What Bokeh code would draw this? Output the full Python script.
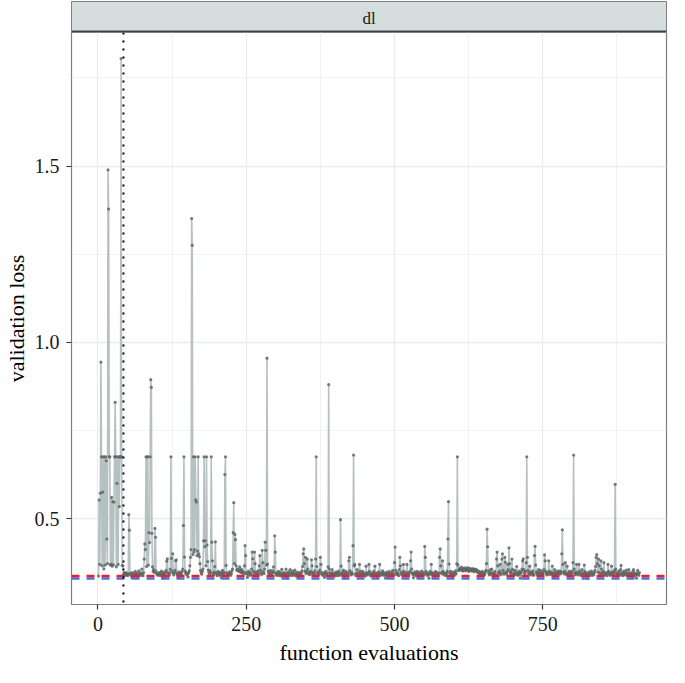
from bokeh.plotting import figure
from bokeh.models import Range1d, FixedTicker, PrintfTickFormatter, Span
from bokeh.layouts import column
from bokeh.embed import file_html
from bokeh.resources import INLINE
from bokeh.core.properties import value

# validation loss per function evaluation, in thousandths
loss_001_050 = [337, 553, 370, 572, 944, 675, 366, 575, 675, 357,
                675, 368, 675, 664, 442, 372, 1489, 1378, 675, 675,
                368, 371, 560, 365, 548, 369, 547, 675, 830, 675,
                363, 600, 675, 370, 675, 534, 675, 675, 1805, 675,
                367, 366, 340, 344, 347, 339, 343, 346, 341, 338]
loss_051_100 = [342, 511, 467, 345, 340, 343, 333, 347, 341, 336,
                344, 339, 350, 342, 337, 346, 341, 335, 352, 343,
                340, 345, 339, 357, 342, 338, 347, 385, 428, 412,
                675, 364, 675, 675, 368, 460, 432, 675, 894, 872,
                458, 363, 350, 355, 347, 472, 447, 351, 344, 341]
loss_101_150 = [339, 344, 347, 342, 338, 345, 351, 340, 331, 343,
                348, 341, 337, 346, 353, 379, 386, 347, 342, 339,
                345, 356, 675, 387, 350, 400, 344, 340, 347, 353,
                380, 383, 345, 341, 333, 344, 349, 342, 338, 346,
                341, 350, 357, 480, 675, 391, 351, 344, 347, 340]
loss_151_200 = [343, 334, 346, 352, 366, 390, 412, 1351, 1275, 398,
                675, 405, 412, 675, 553, 547, 395, 408, 675, 400,
                392, 372, 353, 346, 342, 350, 357, 437, 675, 420,
                437, 366, 675, 425, 378, 354, 347, 341, 352, 346,
                675, 433, 380, 345, 341, 348, 364, 434, 347, 342]
loss_201_250 = [338, 345, 350, 343, 339, 346, 341, 332, 348, 353,
                344, 340, 347, 625, 675, 367, 346, 342, 338, 345,
                341, 349, 343, 339, 344, 352, 357, 460, 545, 372,
                455, 440, 366, 354, 357, 352, 355, 350, 363, 353,
                347, 356, 351, 345, 349, 344, 366, 423, 395, 347]
loss_251_300 = [342, 333, 345, 351, 343, 339, 347, 341, 357, 405,
                386, 350, 344, 405, 372, 348, 342, 339, 346, 352,
                343, 366, 395, 354, 347, 341, 410, 375, 349, 344,
                357, 433, 410, 368, 955, 371, 351, 345, 340, 347,
                353, 342, 338, 346, 351, 363, 347, 451, 405, 344]
loss_301_350 = [339, 345, 342, 350, 338, 344, 348, 341, 337, 356,
                343, 339, 347, 342, 338, 345, 357, 341, 331, 344,
                349, 340, 346, 355, 342, 338, 345, 351, 343, 339,
                346, 354, 341, 337, 344, 348, 340, 332, 343, 347,
                341, 338, 345, 352, 364, 400, 414, 372, 350, 390]
loss_351_400 = [344, 351, 385, 357, 345, 341, 348, 342, 350, 383,
                366, 346, 340, 347, 343, 352, 385, 675, 364, 345,
                341, 348, 342, 354, 390, 370, 347, 343, 339, 346,
                341, 333, 345, 350, 342, 338, 344, 363, 880, 357,
                347, 342, 338, 345, 355, 343, 339, 346, 341, 337]
loss_401_450 = [344, 349, 342, 338, 346, 351, 343, 339, 497, 365,
                345, 341, 348, 354, 342, 331, 345, 350, 341, 337,
                341, 347, 380, 390, 352, 344, 340, 347, 343, 423,
                680, 366, 370, 342, 338, 345, 355, 343, 339, 346,
                370, 350, 342, 338, 345, 351, 343, 339, 346, 341]
loss_451_500 = [337, 365, 344, 340, 347, 343, 370, 350, 341, 337,
                345, 342, 338, 346, 351, 343, 365, 339, 345, 341,
                334, 344, 349, 342, 370, 338, 345, 341, 347, 352,
                343, 339, 346, 340, 331, 343, 348, 341, 337, 344,
                350, 342, 338, 345, 341, 347, 353, 343, 339, 375]
loss_501_550 = [419, 353, 345, 341, 347, 342, 338, 355, 390, 366,
                346, 341, 348, 342, 370, 350, 343, 339, 346, 341,
                370, 347, 342, 338, 345, 350, 380, 405, 357, 345,
                341, 332, 344, 349, 342, 338, 345, 350, 341, 333,
                344, 348, 342, 338, 345, 351, 343, 339, 346, 342]
loss_551_600 = [421, 390, 350, 343, 339, 346, 341, 331, 344, 350,
                342, 370, 347, 342, 338, 345, 341, 337, 350, 344,
                340, 347, 342, 338, 345, 390, 414, 366, 347, 343,
                380, 350, 344, 340, 346, 342, 338, 345, 351, 442,
                548, 371, 347, 343, 350, 341, 333, 344, 348, 342]
loss_601_650 = [339, 346, 352, 343, 372, 675, 368, 352, 356, 359,
                354, 357, 362, 355, 351, 358, 353, 360, 356, 352,
                357, 354, 361, 355, 350, 356, 359, 353, 357, 351,
                355, 358, 352, 349, 356, 353, 357, 350, 354, 348,
                351, 345, 350, 343, 347, 341, 346, 350, 342, 338]
loss_651_700 = [345, 341, 348, 353, 372, 470, 420, 351, 344, 340,
                347, 355, 343, 357, 346, 341, 332, 344, 350, 342,
                338, 385, 405, 366, 347, 343, 350, 370, 345, 341,
                385, 400, 353, 346, 342, 390, 376, 347, 343, 350,
                370, 355, 417, 372, 348, 344, 351, 385, 356, 342]
loss_701_750 = [338, 345, 353, 341, 347, 364, 343, 339, 346, 351,
                342, 331, 345, 350, 357, 380, 386, 355, 347, 343,
                350, 375, 675, 390, 353, 346, 342, 365, 348, 344,
                340, 347, 352, 343, 339, 395, 421, 368, 349, 345,
                341, 348, 355, 344, 340, 347, 353, 342, 345, 341]
loss_751_800 = [348, 355, 397, 380, 350, 344, 340, 347, 342, 380,
                351, 345, 341, 348, 343, 365, 346, 342, 333, 355,
                347, 343, 339, 346, 351, 346, 342, 351, 347, 343,
                350, 400, 468, 370, 347, 343, 350, 375, 345, 341,
                365, 344, 340, 346, 351, 347, 343, 339, 346, 351]
loss_801_850 = [375, 680, 357, 345, 341, 348, 370, 344, 340, 347,
                370, 351, 343, 339, 346, 355, 342, 338, 345, 368,
                350, 343, 339, 346, 341, 330, 344, 349, 342, 338,
                345, 351, 343, 339, 346, 341, 347, 353, 364, 390,
                398, 372, 348, 385, 366, 345, 341, 380, 357, 347]
loss_851_913 = [343, 350, 375, 344, 340, 347, 342, 338, 345, 370,
                351, 343, 339, 346, 341, 365, 348, 344, 340, 347,
                353, 597, 357, 346, 342, 338, 345, 351, 343, 339,
                355, 367, 347, 342, 338, 345, 351, 344, 340, 347,
                354, 342, 338, 345, 355, 343, 339, 346, 341, 332,
                344, 350, 355, 342, 338, 345, 341, 331, 344, 353,
                343, 339, 347]

facet_label = "dl"
x_label = "function evaluations"
y_label = "validation loss"
init_design_end = 43       # dotted vertical line
default_loss = 0.337       # red dashed line
best_loss = 0.330          # blue dashed line
x_ticks = [0, 250, 500, 750]
x_minor = [125, 375, 625, 875]
y_ticks = [0.5, 1.0, 1.5]
y_minor = [0.75, 1.25, 1.75]

segments = [loss_001_050, loss_051_100, loss_101_150, loss_151_200, loss_201_250,
            loss_251_300, loss_301_350, loss_351_400, loss_401_450, loss_451_500,
            loss_501_550, loss_551_600, loss_601_650, loss_651_700, loss_701_750,
            loss_751_800, loss_801_850, loss_851_913]
loss = [v / 1000 for seg in segments for v in seg]
evals = list(range(1, len(loss) + 1))

# ggplot-like 5% expansion
xmin, xmax = min(evals), max(evals)
ymin, ymax = min(loss + [best_loss]), max(loss)
xr = Range1d(xmin - 0.05 * (xmax - xmin), xmax + 0.05 * (xmax - xmin))
yr = Range1d(ymin - 0.05 * (ymax - ymin), ymax + 0.05 * (ymax - ymin))

SERIF = "Liberation Serif"
LEFT = 68
RIGHT = 3
W = 669

# facet strip
s = figure(width=W, height=32, x_range=Range1d(0, 1), y_range=Range1d(0, 1),
           toolbar_location=None, output_backend="svg",
           min_border_left=LEFT, min_border_right=RIGHT, min_border_top=1, min_border_bottom=0,
           background_fill_color="#D5DEDC", outline_line_color="#7F7F7F", outline_line_width=1)
s.xaxis.visible = False
s.yaxis.visible = False
s.grid.visible = False
s.text(x=[0.5], y=[0.45], text=[facet_label], text_align="center", text_baseline="middle",
       text_font=value(SERIF), text_font_size="17px", text_color="#1A1A1A")
s.add_layout(Span(location=0, dimension="width", line_color="#3A4444", line_width=4))

# main panel
p = figure(width=W, height=635, x_range=xr, y_range=yr,
           toolbar_location=None, output_backend="svg",
           min_border_left=LEFT, min_border_right=RIGHT, min_border_top=0, min_border_bottom=0,
           background_fill_color="white", border_fill_color="white",
           outline_line_color="#7F7F7F", outline_line_width=1.2)

for ax, ticks, minor, fmt in ((p.xaxis, x_ticks, x_minor, "%d"), (p.yaxis, y_ticks, y_minor, "%.1f")):
    ax.ticker = FixedTicker(ticks=ticks, minor_ticks=minor)
    ax.formatter = PrintfTickFormatter(format=fmt)
    ax.axis_line_color = None
    ax.major_tick_line_color = "#333333"
    ax.major_tick_line_width = 1.2
    ax.major_tick_out = 5
    ax.major_tick_in = 0
    ax.minor_tick_line_color = None
    ax.major_label_text_font = SERIF
    ax.major_label_text_font_size = "20px"
    ax.major_label_text_color = "#1A1A1A"
    ax.axis_label_text_font = SERIF
    ax.axis_label_text_font_size = "22px"
    ax.axis_label_text_font_style = "normal"
    ax.axis_label_text_color = "black"

p.xaxis.axis_label = x_label
p.yaxis.axis_label = y_label
p.xaxis.major_label_standoff = 7
p.xaxis.axis_label_standoff = 6
p.yaxis.major_label_standoff = 7
p.yaxis.axis_label_standoff = 3

p.grid.grid_line_color = "#E8EDEC"
p.grid.grid_line_width = 1.4
p.grid.minor_grid_line_color = "#EEF2F1"
p.grid.minor_grid_line_width = 1.0

p.line(evals, loss, line_color="#B5C1BF", line_width=1.6)
p.scatter(evals, loss, size=3.2, fill_color="#5F6665", line_color=None, fill_alpha=0.85)

p.add_layout(Span(location=best_loss, dimension="width", line_color="#4A6FE3",
                  line_dash="8 7", line_width=2.5))
p.add_layout(Span(location=default_loss, dimension="width", line_color="#E8202A",
                  line_dash="8 7", line_width=2.5))
p.add_layout(Span(location=init_design_end, dimension="height", line_color="black",
                  line_dash="2 6", line_width=2))

layout = column(s, p, spacing=0)
open("out.html", "w").write(file_html(layout, INLINE))
